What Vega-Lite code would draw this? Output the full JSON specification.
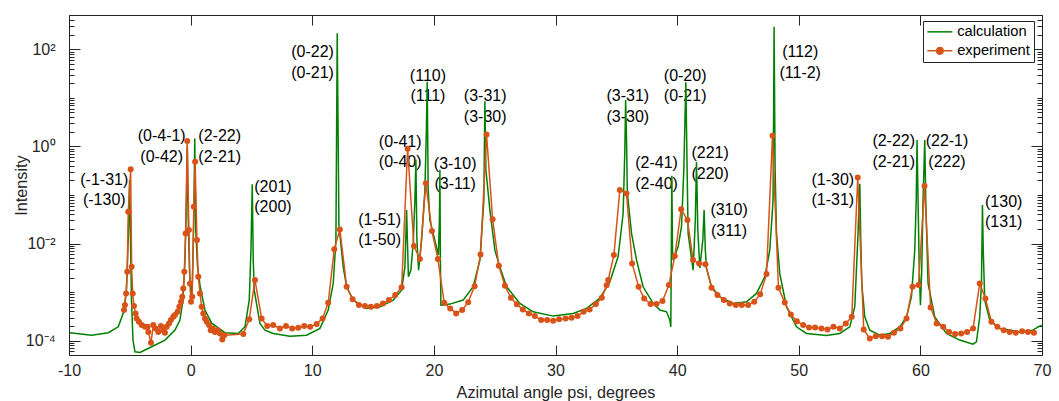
{
  "$schema": "https://vega.github.io/schema/vega-lite/v6.json",
  "width": 973,
  "height": 340,
  "autosize": {"type": "none"},
  "padding": {"left": 69, "top": 15, "right": 17, "bottom": 46},
  "background": "white",
  "config": {
    "font": "Liberation Sans",
    "view": {"stroke": "#262626", "strokeWidth": 1},
    "axis": {
      "domain": false, "grid": false, "ticks": true, "tickColor": "#262626", "tickWidth": 1, "tickOpacity": 1,
      "labelFont": "Liberation Sans", "labelFontSize": 16, "labelColor": "#262626",
      "titleFont": "Liberation Sans", "titleFontSize": 16.2, "titleFontWeight": "normal", "titleColor": "#262626",
      "labelFlush": false, "labelOverlap": false, "labelBound": false
    }
  },
  "datasets": {
    "calc": [
      {"psi": -9.918, "I": 1.46e-4}, {"psi": -8.134, "I": 1.30e-4}, {"psi": -6.770, "I": 1.46e-4}, {"psi": -5.948, "I": 1.93e-4},
      {"psi": -5.537, "I": 3.7e-4}, {"psi": -5.274, "I": 1.1e-3}, {"psi": -5.109, "I": 0.019}, {"psi": -5.019, "I": 0.2},
      {"psi": -4.945, "I": 0.012}, {"psi": -4.863, "I": 6.9e-4}, {"psi": -4.739, "I": 1.03e-4}, {"psi": -4.575, "I": 5.9e-5},
      {"psi": -4.164, "I": 5.74e-5}, {"psi": -3.202, "I": 7.5e-5}, {"psi": -2.109, "I": 1.03e-4}, {"psi": -1.287, "I": 1.65e-4},
      {"psi": -0.876, "I": 2.66e-4}, {"psi": -0.630, "I": 6.9e-4}, {"psi": -0.465, "I": 4.6e-3}, {"psi": -0.342, "I": 0.079},
      {"psi": -0.276, "I": 1.0}, {"psi": -0.194, "I": 0.03}, {"psi": -0.095, "I": 2.8e-3}, {"psi": 0.028, "I": 8e-4},
      {"psi": 0.151, "I": 1.8e-3}, {"psi": 0.258, "I": 0.03}, {"psi": 0.340, "I": 1.45}, {"psi": 0.422, "I": 0.019},
      {"psi": 0.562, "I": 3.5e-3}, {"psi": 0.768, "I": 1.4e-3}, {"psi": 1.179, "I": 4.27e-4}, {"psi": 1.729, "I": 2.3e-4},
      {"psi": 2.823, "I": 1.46e-4}, {"psi": 3.916, "I": 1.41e-4}, {"psi": 4.467, "I": 1.93e-4}, {"psi": 4.820, "I": 6.86e-4},
      {"psi": 4.960, "I": 7.3e-3}, {"psi": 5.067, "I": 0.166}, {"psi": 5.149, "I": 4.6e-3}, {"psi": 5.231, "I": 1.1e-3},
      {"psi": 5.699, "I": 2.27e-4}, {"psi": 6.110, "I": 1.65e-4}, {"psi": 6.793, "I": 1.41e-4}, {"psi": 8.165, "I": 1.24e-4},
      {"psi": 9.538, "I": 1.30e-4}, {"psi": 10.631, "I": 1.79e-4}, {"psi": 11.314, "I": 4.27e-4}, {"psi": 11.725, "I": 1.51e-3},
      {"psi": 11.946, "I": 0.0118}, {"psi": 12.053, "I": 214}, {"psi": 12.193, "I": 0.024}, {"psi": 12.546, "I": 3.3e-3},
      {"psi": 12.826, "I": 1.29e-3}, {"psi": 13.368, "I": 6.86e-4}, {"psi": 14.470, "I": 4.62e-4}, {"psi": 15.563, "I": 5.0e-4},
      {"psi": 16.656, "I": 6.86e-4}, {"psi": 17.347, "I": 1.1e-3}, {"psi": 17.618, "I": 3.3e-3}, {"psi": 17.700, "I": 0.015},
      {"psi": 17.758, "I": 0.049}, {"psi": 17.823, "I": 0.0118}, {"psi": 17.906, "I": 2.07e-3}, {"psi": 18.111, "I": 2.84e-3},
      {"psi": 18.300, "I": 0.0103}, {"psi": 18.440, "I": 0.079}, {"psi": 18.522, "I": 0.54}, {"psi": 18.604, "I": 0.0118},
      {"psi": 18.744, "I": 2.84e-3}, {"psi": 18.990, "I": 0.0118}, {"psi": 19.262, "I": 0.126}, {"psi": 19.385, "I": 2.18},
      {"psi": 19.451, "I": 21.5}, {"psi": 19.533, "I": 0.126}, {"psi": 19.673, "I": 0.03}, {"psi": 19.944, "I": 0.0162},
      {"psi": 20.166, "I": 9.5e-3}, {"psi": 20.372, "I": 5.8e-3}, {"psi": 20.454, "I": 0.03}, {"psi": 20.495, "I": 0.33},
      {"psi": 20.536, "I": 4.6e-3}, {"psi": 20.577, "I": 5.4e-4}, {"psi": 20.906, "I": 5.5e-4}, {"psi": 21.317, "I": 5.67e-4},
      {"psi": 22.410, "I": 6.86e-4}, {"psi": 23.232, "I": 1.29e-3}, {"psi": 23.783, "I": 4.57e-3}, {"psi": 24.111, "I": 0.079},
      {"psi": 24.194, "I": 8.5}, {"psi": 24.276, "I": 0.33}, {"psi": 24.605, "I": 0.049}, {"psi": 25.016, "I": 7.3e-3},
      {"psi": 25.426, "I": 3.3e-3}, {"psi": 25.977, "I": 1.29e-3}, {"psi": 27.071, "I": 5.86e-4}, {"psi": 28.164, "I": 3.94e-4},
      {"psi": 29.808, "I": 3.21e-4}, {"psi": 31.452, "I": 3.65e-4}, {"psi": 32.553, "I": 4.62e-4}, {"psi": 33.647, "I": 7.5e-4},
      {"psi": 34.469, "I": 1.63e-3}, {"psi": 35.150, "I": 5.4e-3}, {"psi": 35.561, "I": 0.042}, {"psi": 35.701, "I": 0.85},
      {"psi": 35.767, "I": 9}, {"psi": 35.841, "I": 1.35}, {"psi": 35.907, "I": 0.11}, {"psi": 36.252, "I": 0.0162},
      {"psi": 36.663, "I": 4.57e-3}, {"psi": 37.205, "I": 1.29e-3}, {"psi": 38.027, "I": 5.9e-4}, {"psi": 38.578, "I": 4.27e-4},
      {"psi": 39.129, "I": 3.94e-4}, {"psi": 39.400, "I": 2.66e-4}, {"psi": 39.482, "I": 1.93e-4}, {"psi": 39.523, "I": 7.3e-3},
      {"psi": 39.564, "I": 0.25}, {"psi": 39.622, "I": 7.3e-3}, {"psi": 39.671, "I": 4.57e-3}, {"psi": 40.082, "I": 8.6e-3},
      {"psi": 40.361, "I": 0.0223}, {"psi": 40.550, "I": 0.33}, {"psi": 40.715, "I": 21}, {"psi": 40.822, "I": 0.33},
      {"psi": 40.904, "I": 0.0162}, {"psi": 41.315, "I": 2.84e-3}, {"psi": 41.496, "I": 0.0305}, {"psi": 41.594, "I": 0.48},
      {"psi": 41.701, "I": 0.019}, {"psi": 41.866, "I": 3.13e-3}, {"psi": 42.112, "I": 0.0118}, {"psi": 42.219, "I": 0.049},
      {"psi": 42.318, "I": 7.3e-3}, {"psi": 42.416, "I": 3.13e-3}, {"psi": 42.827, "I": 1.29e-3}, {"psi": 43.510, "I": 8e-4},
      {"psi": 44.603, "I": 5.86e-4}, {"psi": 45.704, "I": 6.33e-4}, {"psi": 46.526, "I": 9.4e-4}, {"psi": 47.208, "I": 2.07e-3},
      {"psi": 47.619, "I": 7.3e-3}, {"psi": 47.890, "I": 0.079}, {"psi": 47.973, "I": 292}, {"psi": 48.055, "I": 0.33},
      {"psi": 48.170, "I": 0.0162}, {"psi": 48.441, "I": 2.4e-3}, {"psi": 48.992, "I": 5e-4}, {"psi": 49.814, "I": 1.93e-4},
      {"psi": 50.636, "I": 1.41e-4}, {"psi": 52.280, "I": 1.28e-4}, {"psi": 53.373, "I": 1.41e-4}, {"psi": 54.195, "I": 1.93e-4},
      {"psi": 54.606, "I": 5e-4}, {"psi": 54.877, "I": 0.0162}, {"psi": 54.960, "I": 0.079}, {"psi": 55.017, "I": 0.17},
      {"psi": 55.099, "I": 0.0118}, {"psi": 55.181, "I": 1.5e-3}, {"psi": 55.428, "I": 3.1e-4}, {"psi": 55.839, "I": 1.65e-4},
      {"psi": 56.661, "I": 1.30e-4}, {"psi": 57.483, "I": 1.41e-4}, {"psi": 58.305, "I": 1.93e-4}, {"psi": 58.856, "I": 3.1e-4},
      {"psi": 59.266, "I": 8e-4}, {"psi": 59.538, "I": 7.3e-3}, {"psi": 59.661, "I": 0.079}, {"psi": 59.727, "I": 1.35},
      {"psi": 59.809, "I": 0.079}, {"psi": 59.908, "I": 2.84e-3}, {"psi": 60.006, "I": 5.4e-4}, {"psi": 60.113, "I": 2.84e-3},
      {"psi": 60.220, "I": 0.079}, {"psi": 60.360, "I": 1.35}, {"psi": 60.442, "I": 0.079}, {"psi": 60.631, "I": 1.51e-3},
      {"psi": 61.182, "I": 3.1e-4}, {"psi": 62.144, "I": 1.41e-4}, {"psi": 63.237, "I": 1.03e-4}, {"psi": 64.331, "I": 8.5e-5},
      {"psi": 64.610, "I": 9.5e-5}, {"psi": 64.881, "I": 3.1e-4}, {"psi": 65.021, "I": 1.51e-3}, {"psi": 65.070, "I": 0.0118},
      {"psi": 65.103, "I": 0.062}, {"psi": 65.169, "I": 7.3e-3}, {"psi": 65.292, "I": 6.86e-4}, {"psi": 65.703, "I": 2.66e-4},
      {"psi": 66.525, "I": 1.79e-4}, {"psi": 68.169, "I": 1.52e-4}, {"psi": 69.238, "I": 1.65e-4}, {"psi": 69.952, "I": 2.10e-4}
    ],
    "exp": [
      {"psi": -5.48, "I": 4.27e-4}, {"psi": -5.40, "I": 5.41e-4}, {"psi": -5.31, "I": 9.4e-4}, {"psi": -5.21, "I": 2.62e-3},
      {"psi": -5.13, "I": 0.0452}, {"psi": -4.93, "I": 0.34}, {"psi": -4.85, "I": 3.33e-3}, {"psi": -4.76, "I": 9.4e-4},
      {"psi": -4.66, "I": 5.16e-4}, {"psi": -4.52, "I": 3.65e-4}, {"psi": -4.44, "I": 2.88e-4}, {"psi": -4.25, "I": 2.45e-4},
      {"psi": -4.02, "I": 2.10e-4}, {"psi": -3.75, "I": 1.93e-4}, {"psi": -3.53, "I": 1.93e-4}, {"psi": -3.48, "I": 1.52e-4},
      {"psi": -3.26, "I": 9.05e-5}, {"psi": -3.07, "I": 2.10e-4}, {"psi": -2.87, "I": 1.79e-4}, {"psi": -2.66, "I": 1.52e-4},
      {"psi": -2.44, "I": 2.00e-4}, {"psi": -2.25, "I": 1.65e-4}, {"psi": -2.11, "I": 1.46e-4}, {"psi": -1.97, "I": 1.93e-4},
      {"psi": -1.78, "I": 2.27e-4}, {"psi": -1.62, "I": 2.66e-4}, {"psi": -1.43, "I": 3.10e-4}, {"psi": -1.29, "I": 3.37e-4},
      {"psi": -1.07, "I": 3.94e-4}, {"psi": -0.93, "I": 4.99e-4}, {"psi": -0.79, "I": 6.33e-4}, {"psi": -0.69, "I": 8.0e-4},
      {"psi": -0.60, "I": 1.19e-3}, {"psi": -0.52, "I": 2.62e-3}, {"psi": -0.41, "I": 0.0162}, {"psi": -0.28, "I": 1.29},
      {"psi": -0.14, "I": 0.019}, {"psi": -0.05, "I": 1.51e-3}, {"psi": 0.03, "I": 6.33e-4}, {"psi": 0.13, "I": 8.0e-4},
      {"psi": 0.26, "I": 0.0573}, {"psi": 0.37, "I": 0.484}, {"psi": 0.52, "I": 0.0118}, {"psi": 0.63, "I": 2.07e-3},
      {"psi": 0.77, "I": 9.4e-4}, {"psi": 0.91, "I": 4.99e-4}, {"psi": 1.04, "I": 3.65e-4}, {"psi": 1.18, "I": 2.88e-4},
      {"psi": 1.32, "I": 2.45e-4}, {"psi": 1.51, "I": 2.10e-4}, {"psi": 1.65, "I": 1.65e-4}, {"psi": 1.81, "I": 1.79e-4},
      {"psi": 2.00, "I": 1.52e-4}, {"psi": 2.22, "I": 1.65e-4}, {"psi": 2.41, "I": 1.41e-4}, {"psi": 2.60, "I": 1.06e-4},
      {"psi": 2.77, "I": 1.30e-4}, {"psi": 4.33, "I": 1.37e-4}, {"psi": 4.82, "I": 2.75e-4}, {"psi": 5.29, "I": 1.77e-3},
      {"psi": 5.84, "I": 2.88e-4}, {"psi": 6.30, "I": 2.00e-4}, {"psi": 6.79, "I": 2.10e-4}, {"psi": 7.34, "I": 1.79e-4},
      {"psi": 7.84, "I": 2.00e-4}, {"psi": 8.35, "I": 1.79e-4}, {"psi": 8.85, "I": 1.84e-4}, {"psi": 9.34, "I": 2.00e-4},
      {"psi": 9.83, "I": 1.93e-4}, {"psi": 10.36, "I": 2.20e-4}, {"psi": 10.85, "I": 2.88e-4}, {"psi": 11.31, "I": 6.04e-4},
      {"psi": 11.81, "I": 7.6e-3}, {"psi": 12.27, "I": 0.0196}, {"psi": 12.83, "I": 1.29e-3}, {"psi": 13.32, "I": 7.1e-4},
      {"psi": 13.84, "I": 5.41e-4}, {"psi": 14.33, "I": 5.16e-4}, {"psi": 14.82, "I": 4.99e-4}, {"psi": 15.32, "I": 5.16e-4},
      {"psi": 15.81, "I": 5.86e-4}, {"psi": 16.30, "I": 6.86e-4}, {"psi": 16.82, "I": 8.7e-4}, {"psi": 17.35, "I": 1.26e-3},
      {"psi": 17.84, "I": 0.9}, {"psi": 18.36, "I": 8.9e-3}, {"psi": 18.85, "I": 4.8e-3}, {"psi": 19.34, "I": 0.174},
      {"psi": 19.84, "I": 0.0181}, {"psi": 20.33, "I": 4.8e-3}, {"psi": 20.85, "I": 6.04e-4}, {"psi": 21.34, "I": 4.62e-4},
      {"psi": 21.83, "I": 3.65e-4}, {"psi": 22.33, "I": 4.27e-4}, {"psi": 22.82, "I": 6.2e-4}, {"psi": 23.35, "I": 1.33e-3},
      {"psi": 23.84, "I": 5.98e-3}, {"psi": 24.33, "I": 1.77}, {"psi": 24.83, "I": 0.0316}, {"psi": 25.34, "I": 3.49e-3},
      {"psi": 25.84, "I": 1.35e-3}, {"psi": 26.33, "I": 7.65e-4}, {"psi": 26.82, "I": 5.6e-4}, {"psi": 27.31, "I": 4.41e-4},
      {"psi": 27.81, "I": 3.65e-4}, {"psi": 28.30, "I": 3.21e-4}, {"psi": 28.82, "I": 2.66e-4}, {"psi": 29.31, "I": 2.66e-4},
      {"psi": 29.81, "I": 2.57e-4}, {"psi": 30.30, "I": 2.75e-4}, {"psi": 30.83, "I": 2.88e-4}, {"psi": 31.32, "I": 2.96e-4},
      {"psi": 31.81, "I": 3.21e-4}, {"psi": 32.31, "I": 3.94e-4}, {"psi": 32.80, "I": 4.41e-4}, {"psi": 33.32, "I": 5.67e-4},
      {"psi": 33.81, "I": 7.65e-4}, {"psi": 34.20, "I": 1.38e-3}, {"psi": 34.33, "I": 1.77e-3}, {"psi": 34.80, "I": 5.8e-3},
      {"psi": 35.29, "I": 0.126}, {"psi": 35.84, "I": 0.108}, {"psi": 36.30, "I": 3.91e-3}, {"psi": 36.83, "I": 1.29e-3},
      {"psi": 37.29, "I": 7.4e-4}, {"psi": 37.81, "I": 5.67e-4}, {"psi": 38.30, "I": 5.67e-4}, {"psi": 38.80, "I": 6.6e-4},
      {"psi": 39.32, "I": 1.40e-3}, {"psi": 39.81, "I": 5.52e-3}, {"psi": 40.33, "I": 0.0506}, {"psi": 40.85, "I": 0.0305},
      {"psi": 41.31, "I": 4.57e-3}, {"psi": 41.81, "I": 3.91e-3}, {"psi": 42.33, "I": 3.73e-3}, {"psi": 42.83, "I": 1.23e-3},
      {"psi": 43.32, "I": 8.7e-4}, {"psi": 43.84, "I": 6.86e-4}, {"psi": 44.33, "I": 5.86e-4}, {"psi": 44.83, "I": 5.41e-4},
      {"psi": 45.32, "I": 5.41e-4}, {"psi": 45.84, "I": 5.41e-4}, {"psi": 46.34, "I": 6.33e-4}, {"psi": 46.83, "I": 9.0e-4},
      {"psi": 47.35, "I": 2.35e-3}, {"psi": 47.84, "I": 1.65}, {"psi": 48.33, "I": 1.23e-3}, {"psi": 48.85, "I": 6.1e-4},
      {"psi": 49.35, "I": 3.48e-4}, {"psi": 49.84, "I": 2.53e-4}, {"psi": 50.36, "I": 2.10e-4}, {"psi": 50.85, "I": 1.88e-4},
      {"psi": 51.34, "I": 1.88e-4}, {"psi": 51.87, "I": 1.79e-4}, {"psi": 52.36, "I": 1.71e-4}, {"psi": 52.85, "I": 1.93e-4},
      {"psi": 53.37, "I": 1.79e-4}, {"psi": 53.87, "I": 2.27e-4}, {"psi": 54.36, "I": 3.10e-4}, {"psi": 54.85, "I": 0.23},
      {"psi": 55.34, "I": 1.71e-4}, {"psi": 55.84, "I": 1.11e-4}, {"psi": 56.33, "I": 1.24e-4}, {"psi": 56.85, "I": 1.24e-4},
      {"psi": 57.34, "I": 1.20e-4}, {"psi": 57.83, "I": 1.46e-4}, {"psi": 58.36, "I": 1.79e-4}, {"psi": 58.86, "I": 2.88e-4},
      {"psi": 59.35, "I": 1.29e-3}, {"psi": 59.85, "I": 1.40e-3}, {"psi": 60.34, "I": 0.153}, {"psi": 60.84, "I": 4.85e-4},
      {"psi": 61.34, "I": 2.27e-4}, {"psi": 61.87, "I": 1.93e-4}, {"psi": 62.36, "I": 1.52e-4}, {"psi": 62.86, "I": 1.37e-4},
      {"psi": 63.35, "I": 1.41e-4}, {"psi": 63.84, "I": 1.52e-4}, {"psi": 64.33, "I": 1.79e-4}, {"psi": 64.88, "I": 1.51e-3},
      {"psi": 65.35, "I": 7.4e-4}, {"psi": 65.84, "I": 2.45e-4}, {"psi": 66.33, "I": 1.93e-4}, {"psi": 66.85, "I": 1.65e-4},
      {"psi": 67.34, "I": 1.52e-4}, {"psi": 67.84, "I": 1.46e-4}, {"psi": 68.36, "I": 1.56e-4}, {"psi": 68.85, "I": 1.52e-4},
      {"psi": 69.34, "I": 1.46e-4}
    ],
    "labels": [
      {"psi": -7.10, "I": 0.206, "label": ["(-1-31)", "(-130)"]},
      {"psi": -2.38, "I": 1.64, "label": ["(0-4-1)", "(0-42)"]},
      {"psi": 2.39, "I": 1.64, "label": ["(2-22)", "(2-21)"]},
      {"psi": 6.77, "I": 0.148, "label": ["(201)", "(200)"]},
      {"psi": 10.03, "I": 87.1, "label": ["(0-22)", "(0-21)"]},
      {"psi": 15.54, "I": 0.0309, "label": ["(1-51)", "(1-50)"]},
      {"psi": 17.23, "I": 1.25, "label": ["(0-41)", "(0-40)"]},
      {"psi": 19.51, "I": 28.8, "label": ["(110)", "(111)"]},
      {"psi": 21.75, "I": 0.44, "label": ["(3-10)", "(3-11)"]},
      {"psi": 24.22, "I": 11.0, "label": ["(3-31)", "(3-30)"]},
      {"psi": 35.95, "I": 11.0, "label": ["(3-31)", "(3-30)"]},
      {"psi": 38.31, "I": 0.449, "label": ["(2-41)", "(2-40)"]},
      {"psi": 40.66, "I": 28.5, "label": ["(0-20)", "(0-21)"]},
      {"psi": 42.71, "I": 0.731, "label": ["(221)", "(220)"]},
      {"psi": 44.27, "I": 0.0483, "label": ["(310)", "(311)"]},
      {"psi": 50.12, "I": 88.0, "label": ["(112)", "(11-2)"]},
      {"psi": 52.80, "I": 0.206, "label": ["(1-30)", "(1-31)"]},
      {"psi": 57.81, "I": 1.27, "label": ["(2-22)", "(2-21)"]},
      {"psi": 62.19, "I": 1.27, "label": ["(22-1)", "(222)"]},
      {"psi": 66.85, "I": 0.0726, "label": ["(130)", "(131)"]}
    ]
  },
  "resolve": {"axis": {"x": "independent", "y": "independent"}},
  "layer": [
    {
      "data": {"name": "labels"},
      "mark": {"type": "text", "font": "Liberation Sans", "fontSize": 16, "lineHeight": 20.7, "align": "center", "baseline": "middle", "color": "#000000"},
      "encoding": {
        "x": {"field": "psi", "type": "quantitative", "scale": {"domain": [-10, 70], "nice": false, "zero": false}, "axis": {
          "orient": "top", "values": [-10, 0, 10, 20, 30, 40, 50, 60, 70], "offset": -10, "tickSize": 10, "labels": false, "title": null}},
        "y": {"field": "I", "type": "quantitative", "scale": {"type": "log", "domain": [5.08e-5, 508], "nice": false}, "axis": {
          "orient": "left", "offset": -5, "tickSize": 5, "labels": false, "title": null,
          "values": [6e-5, 7e-5, 8e-5, 9e-5, 2e-4, 3e-4, 4e-4, 5e-4, 6e-4, 7e-4, 8e-4, 9e-4, 1e-3, 2e-3, 3e-3, 4e-3, 5e-3, 6e-3, 7e-3, 8e-3, 9e-3, 2e-2, 3e-2, 4e-2, 5e-2, 6e-2, 7e-2, 8e-2, 9e-2, 0.1, 0.2, 0.3, 0.4, 0.5, 0.6, 0.7, 0.8, 0.9, 2, 3, 4, 5, 6, 7, 8, 9, 10, 20, 30, 40, 50, 60, 70, 80, 90, 200, 300, 400, 500]}},
        "text": {"field": "label"}
      }
    },
    {
      "data": {"name": "calc"},
      "mark": {"type": "line", "strokeWidth": 1.5, "interpolate": "linear"},
      "encoding": {
        "x": {"field": "psi", "type": "quantitative", "axis": {
          "orient": "bottom", "values": [-10, 0, 10, 20, 30, 40, 50, 60, 70], "offset": -10, "tickSize": 10, "labelPadding": 7.5,
          "labelExpr": "datum.value < 0 ? '-' + abs(datum.value) : '' + datum.value",
          "title": "Azimutal angle psi, degrees", "titleY": 47, "titleBaseline": "middle"}},
        "y": {"field": "I", "type": "quantitative", "axis": {
          "orient": "left", "values": [0.0001, 0.01, 1, 100], "offset": -11, "tickSize": 11, "labelPadding": 14,
          "labelExpr": "datum.value > 10 ? '10²' : datum.value > 0.1 ? '10⁰' : datum.value > 0.001 ? '10⁻²' : '10⁻⁴'",
          "title": "Intensity", "titleX": -59, "titleY": 170, "titleAngle": -90, "titleBaseline": "middle", "titleAlign": "center"}},
        "color": {
          "datum": "calculation",
          "scale": {"domain": ["calculation", "experiment"], "range": ["#008000", "#D95319"]},
          "legend": {
            "title": null, "orient": "none", "legendX": 854, "legendY": 6,
            "padding": 3.5, "fillColor": "white", "strokeColor": "#262626", "cornerRadius": 0,
            "labelFont": "Liberation Sans", "labelFontSize": 14.7, "labelColor": "#000000",
            "symbolSize": 156.25, "symbolStrokeWidth": 1.5, "symbolOffset": 6, "labelOffset": 10, "rowPadding": 3,
            "encode": {
              "symbols": {"update": {
                "shape": {"signal": "datum.value === 'experiment' ? 'M-2,0H2M0.53,0A0.53,0.53,0,1,1,-0.53,0A0.53,0.53,0,1,1,0.53,0Z' : 'M-2,0H2'"},
                "fill": {"signal": "datum.value === 'experiment' ? '#D95319' : 'transparent'"},
                "stroke": {"signal": "datum.value === 'experiment' ? '#D95319' : '#008000'"},
                "strokeWidth": {"value": 1.5},
                "opacity": {"value": 1}
              }}
            }
          }
        }
      }
    },
    {
      "data": {"name": "exp"},
      "mark": {"type": "line", "strokeWidth": 1.5, "point": {"filled": true, "size": 36, "opacity": 1}},
      "encoding": {
        "x": {"field": "psi", "type": "quantitative", "axis": null},
        "y": {"field": "I", "type": "quantitative", "axis": {
          "orient": "right", "values": [0.0001, 0.01, 1, 100], "offset": -11, "tickSize": 11, "labels": false, "title": null}},
        "color": {"datum": "experiment"}
      }
    },
    {
      "data": {"name": "exp"},
      "mark": {"type": "point", "opacity": 0},
      "encoding": {
        "x": {"field": "psi", "type": "quantitative", "axis": null},
        "y": {"field": "I", "type": "quantitative", "axis": {
          "orient": "right", "offset": -5, "tickSize": 5, "labels": false, "title": null,
          "values": [6e-5, 7e-5, 8e-5, 9e-5, 2e-4, 3e-4, 4e-4, 5e-4, 6e-4, 7e-4, 8e-4, 9e-4, 1e-3, 2e-3, 3e-3, 4e-3, 5e-3, 6e-3, 7e-3, 8e-3, 9e-3, 2e-2, 3e-2, 4e-2, 5e-2, 6e-2, 7e-2, 8e-2, 9e-2, 0.1, 0.2, 0.3, 0.4, 0.5, 0.6, 0.7, 0.8, 0.9, 2, 3, 4, 5, 6, 7, 8, 9, 10, 20, 30, 40, 50, 60, 70, 80, 90, 200, 300, 400, 500]}}
      }
    }
  ]
}
